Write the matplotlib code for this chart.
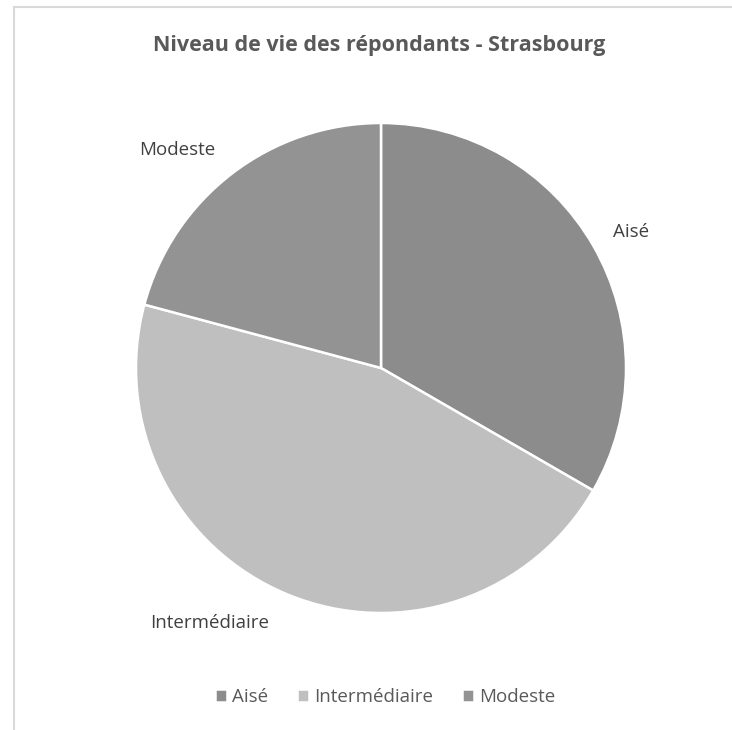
import matplotlib.pyplot as plt
from matplotlib.lines import Line2D

categories = ["Aisé", "Intermédiaire", "Modeste"]
values = [8, 11, 5]
colors = ['#8c8c8c', '#bfbfbf', '#939393']
title = "Niveau de vie des répondants - Strasbourg"

plt.rcParams['font.family'] = ['Open Sans', 'DejaVu Sans']

W, H = 732, 730
fig = plt.figure(figsize=(W / 100, H / 100), dpi=100)

# frame of the chart area: only the top and left edges are in the crop
fx, fy = 13.5 / W, 1 - 7 / H
fig.lines.append(Line2D([fx, fx], [-0.1, fy], transform=fig.transFigure,
                        color='#d9d9d9', linewidth=1.5))
fig.lines.append(Line2D([fx, 1.1], [fy, fy], transform=fig.transFigure,
                        color='#d9d9d9', linewidth=1.5))

cx, cy, r = 381, 368, 245
ax = fig.add_axes([(cx - r) / W, (H - cy - r) / H, 2 * r / W, 2 * r / H])
wedges, _ = ax.pie(values, colors=colors, startangle=90, counterclock=False,
                   radius=1, wedgeprops=dict(edgecolor='white', linewidth=1.8))
ax.set_xlim(-1, 1)
ax.set_ylim(-1, 1)

# data labels, placed roughly where the spreadsheet put them
label_pos = {"Aisé": (1.02, 0.555), "Modeste": (-0.83, 0.89), "Intermédiaire": (-0.70, -1.04)}
for name in categories:
    x, y = label_pos[name]
    ax.text(x, y, name, ha='center', va='center', fontsize=13.5, color='#404040', clip_on=False)

fig.text(0.518, 1 - 45 / H, title, ha='center', va='center', fontsize=15.5,
         fontweight='bold', color='#595959')

fig.legend(wedges, categories, loc='center', bbox_to_anchor=(0.526, 1 - 697 / H),
           ncol=3, frameon=False, fontsize=13.5, handlelength=0.65, handleheight=0.65,
           handletextpad=0.3, columnspacing=1.5, labelcolor='#595959')

fig.savefig('out.png', dpi=100)
